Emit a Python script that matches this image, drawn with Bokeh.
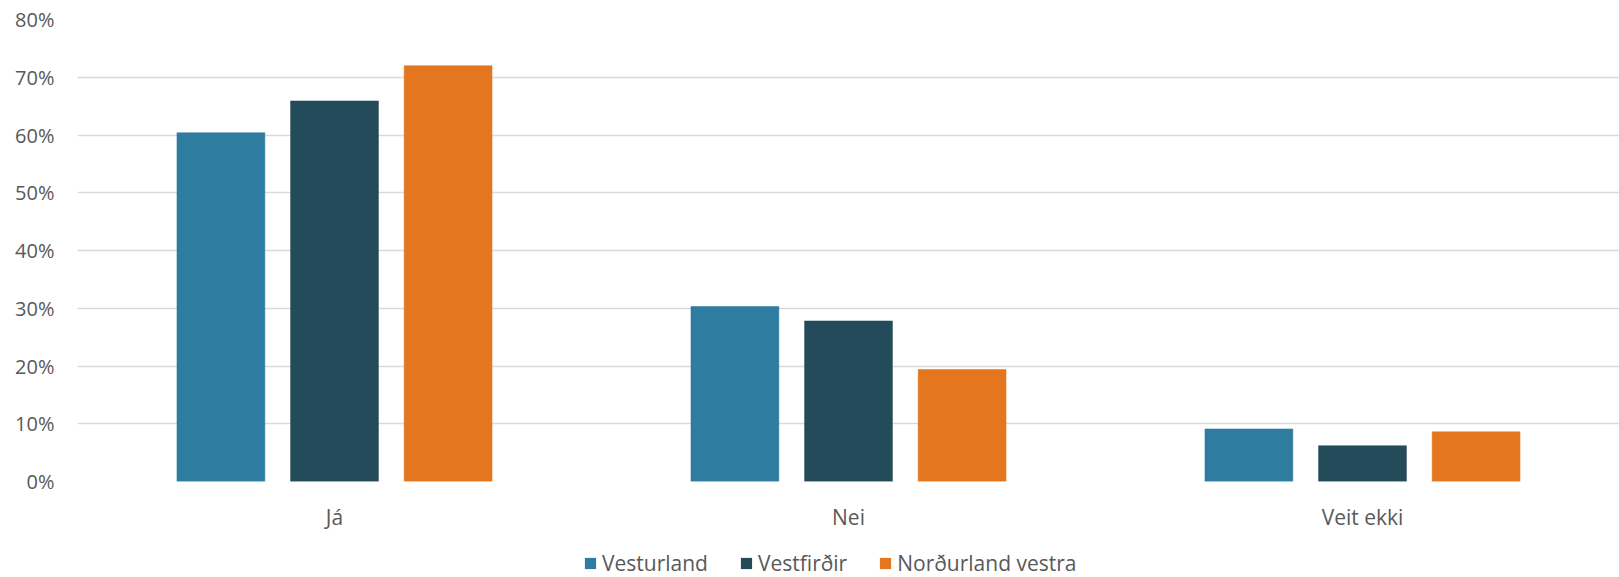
from bokeh.plotting import figure
from bokeh.layouts import column
from bokeh.models import (FactorRange, FixedTicker, NumeralTickFormatter, Legend, LegendItem,
                          ColumnDataSource, Range1d)
from bokeh.transform import dodge
from bokeh.embed import file_html
from bokeh.resources import INLINE

categories = ["Já", "Nei", "Veit ekki"]
series_names = ["Vesturland", "Vestfirðir", "Norðurland vestra"]
vesturland = [0.604, 0.303, 0.091]
vestfirdir = [0.659, 0.278, 0.062]
nordurland_vestra = [0.720, 0.194, 0.086]
y_ticks = [0.0, 0.1, 0.2, 0.3, 0.4, 0.5, 0.6, 0.7, 0.8]

colors = ["#2E7C9F", "#244B5A", "#E3761F"]
FONT = "Open Sans"
TEXT = "#595959"

src = ColumnDataSource(dict(cat=categories, v1=vesturland, v2=vestfirdir, v3=nordurland_vestra))

p = figure(x_range=FactorRange(*categories, range_padding=0), y_range=(0, 0.8),
           width=1619, height=540, output_backend="svg", toolbar_location=None,
           min_border_left=77, min_border_right=0, min_border_top=19, min_border_bottom=59)
p.outline_line_color = None
p.background_fill_color = "white"
p.border_fill_color = "white"

for col, off, c in zip(["v1", "v2", "v3"], [-0.221, 0.0, 0.221], colors):
    p.vbar(x=dodge("cat", off, range=p.x_range), top=col, width=0.171, source=src,
           fill_color=c, line_color=c, line_width=0.5)

p.yaxis.ticker = FixedTicker(ticks=y_ticks)
p.yaxis.formatter = NumeralTickFormatter(format="0%")
p.yaxis.axis_line_color = None
p.yaxis.major_tick_line_color = None
p.yaxis.minor_tick_line_color = None
p.yaxis.major_label_standoff = 17
p.yaxis.major_label_text_font = FONT
p.yaxis.major_label_text_font_size = "20px"
p.yaxis.major_label_text_color = TEXT

p.xaxis.axis_line_color = None
p.xaxis.major_tick_line_color = None
p.xaxis.minor_tick_line_color = None
p.xaxis.major_label_standoff = 15
p.xaxis.major_label_text_font = FONT
p.xaxis.major_label_text_font_size = "21px"
p.xaxis.major_label_text_color = TEXT

p.xgrid.grid_line_color = None
p.ygrid.grid_line_color = "#D9D9D9"
p.ygrid.grid_line_width = 1.5

# legend strip below the chart
lg = figure(width=1619, height=37, output_backend="svg", toolbar_location=None,
            x_range=Range1d(0, 1), y_range=Range1d(0, 1),
            min_border_left=0, min_border_right=0, min_border_top=0, min_border_bottom=0)
lg.axis.visible = False
lg.grid.visible = False
lg.outline_line_color = None
lg.background_fill_color = "white"
lg.border_fill_color = "white"
items = []
for name, c in zip(series_names, colors):
    r = lg.vbar(x=[0.5], top=[0], bottom=[0], width=0.0, fill_color=c, line_alpha=0)
    items.append(LegendItem(label=name, renderers=[r]))

legend = Legend(items=items, orientation="horizontal", location=(506, 0),
                glyph_width=14, glyph_height=14, label_standoff=5, spacing=31,
                padding=0, margin=0, border_line_color=None, background_fill_alpha=0,
                label_text_font=FONT, label_text_font_size="21px", label_text_color=TEXT)
lg.add_layout(legend, "center")

layout = column(p, lg, spacing=0)
open("out.html", "w").write(file_html(layout, INLINE))
